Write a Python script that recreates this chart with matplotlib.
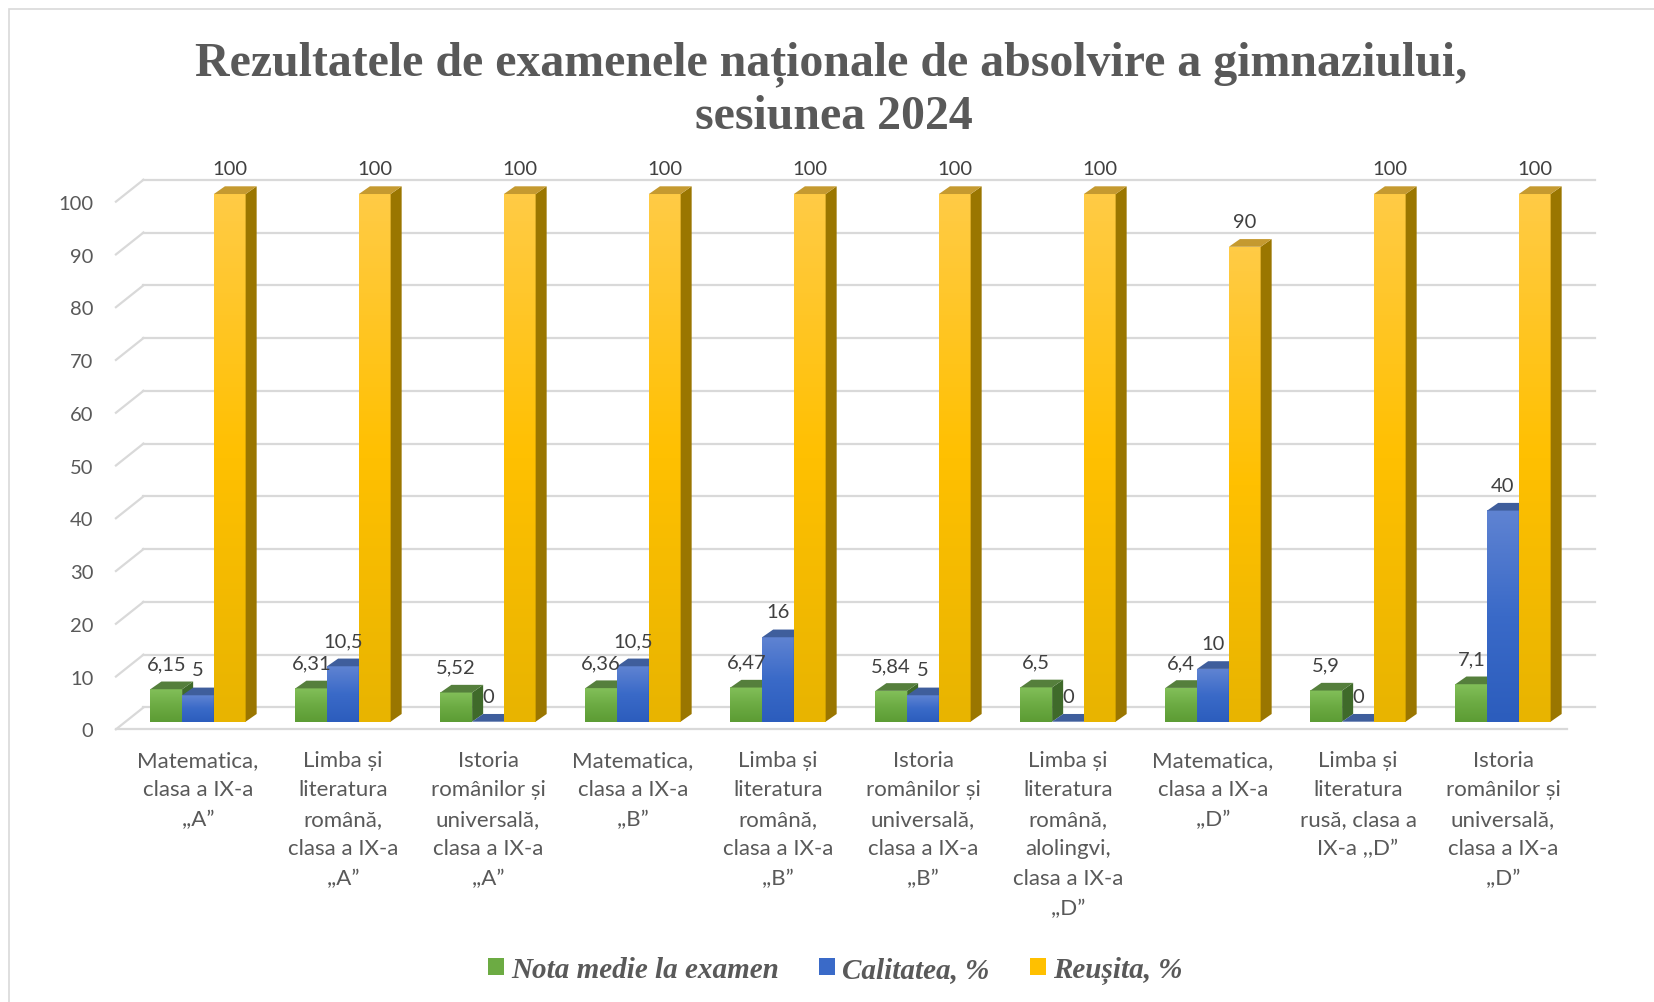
import numpy as np
import matplotlib
matplotlib.use('Agg')
import matplotlib.pyplot as plt
from matplotlib.patches import Polygon, Rectangle, Patch
from matplotlib.colors import LinearSegmentedColormap

plt.rcParams['font.family'] = ['Lato', 'DejaVu Sans']

# date
categorii = [
    'Matematica,\nclasa a IX-a\n,,A\u201d',
    'Limba și\nliteratura\nromână,\nclasa a IX-a\n,,A\u201d',
    'Istoria\nromânilor și\nuniversală,\nclasa a IX-a\n,,A\u201d',
    'Matematica,\nclasa a IX-a\n,,B\u201d',
    'Limba și\nliteratura\nromână,\nclasa a IX-a\n,,B\u201d',
    'Istoria\nromânilor și\nuniversală,\nclasa a IX-a\n,,B\u201d',
    'Limba și\nliteratura\nromână,\nalolingvi,\nclasa a IX-a\n,,D\u201d',
    'Matematica,\nclasa a IX-a\n,,D\u201d',
    'Limba și\nliteratura\nrusă, clasa a\nIX-a ,,D\u201d',
    'Istoria\nromânilor și\nuniversală,\nclasa a IX-a\n,,D\u201d',
]
nota_medie = [6.15, 6.31, 5.52, 6.36, 6.47, 5.84, 6.5, 6.4, 5.9, 7.1]
calitatea = [5, 10.5, 0, 10.5, 16, 5, 0, 10, 0, 40]
reusita = [100, 100, 100, 100, 100, 100, 100, 90, 100, 100]
serii = ['Nota medie la examen', 'Calitatea, %', 'Reușita, %']
y_ticks = list(range(0, 101, 10))

# culori: (jos, mijloc, sus) fata, capac, lateral
culori = [
    (['#5c9c34', '#6cab43', '#82bf59'], '#557f3c', '#3f6a2a'),
    (['#2c5dbd', '#3a6ac8', '#5f83d2'], '#3f5e9c', '#24458a'),
    (['#e8b400', '#ffc000', '#ffcb45'], '#c59a30', '#9a7600'),
]

fig = plt.figure(figsize=(16.54, 10.03), dpi=100)
ax = fig.add_axes([0.05396, 0.2637, 0.9205, 0.5787])
ax.set_xlim(-0.75, 9.75)
ax.set_ylim(-3, 107)
ax.axis('off')

# perete (3D)
fl, fr = -0.566, 9.444
wd = 0.19
y_fata, y_spate = -1.45, 2.7
grid_col = '#d9d9d9'
for v in y_ticks:
    ax.plot([fl + wd, fr + wd], [v + y_spate, v + y_spate], color=grid_col, lw=1.6, zorder=1)
    ax.plot([fl, fl + wd], [v + y_fata, v + y_spate], color=grid_col, lw=1.6, zorder=1)
    ax.text(-0.72, v + y_fata - 0.3, str(v), ha='right', va='center', fontsize=14.5, color='#595959')
ax.plot([fl, fr], [y_fata, y_fata], color=grid_col, lw=1.6, zorder=1)

w = 0.219
bdx, bdy = 0.076, 1.46
grad = np.linspace(0, 1, 100).reshape(-1, 1)


def fmt(v):
    return ('%g' % v).replace('.', ',')


def bara(x, v, cul, z):
    fata, capac, lateral = cul
    cmap = LinearSegmentedColormap.from_list('g', fata)
    x0, x1 = x - w / 2, x + w / 2
    if v > 0:
        ax.imshow(grad, extent=(x0, x1, 0, v), origin='lower', cmap=cmap,
                  aspect='auto', zorder=z, interpolation='bilinear')
    ax.add_patch(Polygon([(x1, 0), (x1 + bdx, bdy), (x1 + bdx, v + bdy), (x1, v)],
                         closed=True, facecolor=lateral, edgecolor='none', zorder=z))
    ax.add_patch(Polygon([(x0, v), (x1, v), (x1 + bdx, v + bdy), (x0 + bdx, v + bdy)],
                         closed=True, facecolor=capac, edgecolor='none', zorder=z))
    ax.text(x, v + 4.8, fmt(v), ha='center', va='center',
            fontsize=14.5, color='#404040', zorder=20)


date = [nota_medie, calitatea, reusita]
for i in range(len(categorii)):
    for j in range(3):
        x = i + (j - 1) * w
        bara(x, date[j][i], culori[j], 3 + i * 0.1 + j * 0.01)
    ax.text(i, -5.3, categorii[i], ha='center', va='top', fontsize=16,
            color='#595959', linespacing=1.6)

# titlu
fig.text(0.5025, 1 - 64 / 1003, 'Rezultatele de examenele naționale de absolvire a gimnaziului,',
         ha='center', va='center', fontsize=34.5, fontweight='bold',
         family='Liberation Serif', color='#595959')
fig.text(0.504, 1 - 117 / 1003, 'sesiunea 2024', ha='center', va='center', fontsize=34.5,
         fontweight='bold', family='Liberation Serif', color='#595959')

# legenda
handles = [Patch(facecolor=c[0][1], edgecolor='none') for c in culori]
fig.legend(handles, serii, loc='center', bbox_to_anchor=(0.505, 0.032), ncol=3,
           frameon=False, handlelength=0.55, handleheight=0.55, handletextpad=0.25,
           columnspacing=1.38,
           prop={'family': 'Liberation Serif', 'weight': 'bold', 'style': 'italic', 'size': 21},
           labelcolor='#595959')

fig.add_artist(Rectangle((0.0057, -0.1), 1.5, 1.0905, transform=fig.transFigure,
                         fill=False, edgecolor='#d9d9d9', lw=1.2))

fig.savefig('out.png', dpi=100)
